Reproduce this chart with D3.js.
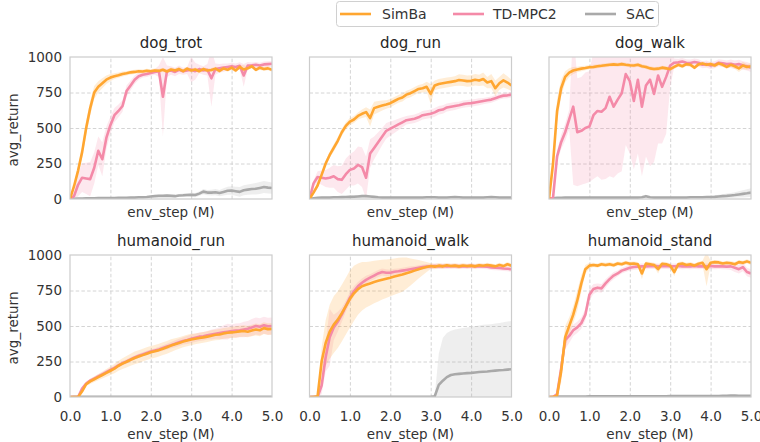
<!DOCTYPE html>
<html>
<head>
<meta charset="utf-8">
<script src="https://cdn.jsdelivr.net/npm/d3@7/dist/d3.min.js"></script>
<style>
  html, body { margin: 0; padding: 0; background: #fff; }
  svg { display: block; font-family: "DejaVu Sans", sans-serif; }
</style>
</head>
<body>
<svg id="chart" width="760" height="442"></svg>
<script>
// ---------------- DATA ----------------
const steps = [0.0,0.1,0.2,0.3,0.4,0.5,0.6,0.7,0.8,0.9,1.0,1.1,1.2,1.3,1.4,1.5,1.6,1.7,1.8,1.9,2.0,2.1,2.2,2.3,2.4,2.5,2.6,2.7,2.8,2.9,3.0,3.1,3.2,3.3,3.4,3.5,3.6,3.7,3.8,3.9,4.0,4.1,4.2,4.3,4.4,4.5,4.6,4.7,4.8,4.9,5.0];
const seriesNames = ["SimBa", "TD-MPC2", "SAC"];
const taskNames = ["dog_trot", "dog_run", "dog_walk", "humanoid_run", "humanoid_walk", "humanoid_stand"];
const xTicks = [0, 1, 2, 3, 4, 5];
const yTicks = [0, 250, 500, 750, 1000];

// dog_trot
const dogTrotSimba   = [0,90,200,330,500,640,750,790,815,840,855,865,872,880,885,892,895,900,898,903,900,905,902,910,898,912,905,915,900,918,905,912,900,915,905,908,918,902,920,910,925,905,930,912,920,935,910,925,915,920,910];
const dogTrotSimbaSd = [0,20,30,40,50,50,45,40,35,30,25,20,18,18,15,15,15,14,14,14,14,14,14,14,14,14,14,14,14,14,14,14,14,14,14,14,14,14,14,14,14,14,14,30,14,14,14,14,14,14,14];
const dogTrotTd      = [0,20,100,150,145,140,220,340,280,430,520,590,620,655,760,800,840,865,875,880,888,895,900,720,900,905,895,910,900,905,912,900,915,905,910,850,915,920,925,930,935,930,938,870,940,942,945,940,948,950,952];
const dogTrotTdSd    = [0,30,80,100,110,120,110,100,120,80,60,50,45,40,40,35,30,25,20,20,20,20,40,280,40,30,30,30,25,25,90,60,30,30,40,200,40,30,30,25,25,25,25,80,25,20,20,20,20,20,20];
const dogTrotSac     = [0,2,3,4,5,5,5,6,6,6,7,7,8,8,8,10,10,12,12,14,18,20,22,22,24,22,20,25,26,28,30,28,38,52,45,45,48,42,50,58,60,55,50,62,66,70,72,78,84,80,77];
const dogTrotSacSd   = [0,2,3,3,3,3,3,3,3,3,3,4,4,4,4,5,5,5,6,6,7,7,8,8,9,10,10,10,12,12,14,15,15,18,18,20,22,22,25,28,30,32,34,35,36,38,40,42,42,42,40];

// dog_run
const dogRunSimba    = [0,45,95,170,250,310,360,410,470,515,545,560,585,600,612,570,640,650,658,665,675,690,705,715,735,745,760,775,780,790,740,800,810,815,820,825,830,838,835,830,832,840,835,845,820,830,780,815,835,820,800];
const dogRunSimbaSd  = [0,10,15,18,20,22,25,25,25,25,25,25,25,30,35,60,45,40,35,30,30,28,28,28,28,28,28,28,30,35,70,35,35,35,35,35,35,40,40,40,40,40,40,45,40,50,55,45,50,45,40];
const dogRunTd       = [0,110,155,150,145,150,160,140,135,175,205,215,240,225,150,320,360,400,440,480,495,510,525,540,555,560,565,575,590,595,600,610,625,630,645,650,655,660,668,672,675,680,685,690,695,700,710,720,728,730,735];
const dogRunTdSd     = [0,20,40,50,60,70,80,90,100,110,110,120,130,140,150,100,80,70,60,55,50,45,40,35,30,30,30,30,30,30,30,30,30,30,28,28,28,25,25,25,25,25,25,22,22,22,22,20,20,20,20];
const dogRunSac      = [0,5,8,10,10,10,12,12,13,14,15,16,18,20,20,18,15,12,10,10,10,10,10,10,10,10,10,10,10,12,12,12,10,10,10,12,14,12,10,10,10,10,10,10,12,14,12,10,10,10,10];
const dogRunSacSd    = [0,3,4,5,5,5,6,6,7,8,9,10,10,10,10,8,7,6,5,5,5,5,5,5,5,5,5,5,5,5,5,5,5,5,5,5,5,5,5,5,5,5,5,5,5,5,5,5,5,5,5];

// dog_walk
const dogWalkSimba   = [0,250,620,780,860,890,905,912,918,922,928,930,935,938,942,945,948,945,950,945,942,940,945,935,930,920,915,918,925,920,915,930,945,935,950,945,925,948,955,945,950,940,955,945,930,945,935,920,940,930,935];
const dogWalkSimbaSd = [0,60,80,60,40,30,25,20,18,16,15,15,14,14,14,14,14,14,14,14,14,14,14,14,14,14,14,14,14,14,14,14,14,14,14,14,14,14,14,14,14,14,14,14,14,14,20,25,25,20,20];
const dogWalkTd      = [0,10,300,400,470,560,650,470,480,500,510,590,620,615,640,720,650,700,745,880,830,690,840,650,800,840,740,870,790,860,940,960,962,968,960,958,965,960,945,950,940,945,960,955,950,952,945,950,940,935,925];
const dogWalkTdSd    = [0,10,40,50,60,70,550,380,380,390,390,450,460,480,500,560,500,520,550,500,510,480,520,490,500,610,480,480,400,400,150,30,25,25,25,25,25,25,25,25,25,25,25,25,25,30,30,30,30,30,30];
const dogWalkSac     = [0,5,8,8,10,10,10,10,10,10,10,10,10,10,10,10,10,10,10,10,10,10,10,12,20,12,10,10,10,10,10,10,10,10,10,12,12,12,12,14,14,15,18,20,22,25,28,32,36,40,45];
const dogWalkSacSd   = [0,3,3,3,3,3,3,3,3,3,3,3,3,3,3,3,3,3,3,3,3,3,3,3,5,3,3,3,3,3,3,3,3,3,3,4,5,6,7,8,9,10,12,14,16,18,20,22,25,28,30];

// humanoid_run
const humRunSimba    = [0,0,0,40,90,110,125,140,155,170,185,200,220,235,248,262,275,285,295,305,315,322,330,340,350,362,372,380,390,398,405,410,415,420,425,432,438,440,448,452,455,458,462,465,460,468,475,470,485,478,480];
const humRunSimbaSd  = [0,0,0,10,15,18,20,22,25,28,30,32,35,38,40,42,45,45,45,45,45,45,45,45,45,45,42,40,40,40,40,38,38,38,38,38,38,38,38,38,40,40,40,40,40,40,42,42,42,42,42];
const humRunTd       = [0,0,0,60,95,115,130,145,160,175,190,205,222,238,250,265,278,290,300,310,320,328,335,345,355,365,375,385,395,402,410,418,425,428,435,440,445,450,455,460,465,468,470,475,480,490,500,495,505,498,500];
const humRunTdSd     = [0,0,0,10,12,14,15,15,15,15,15,15,15,15,15,15,15,15,15,15,15,15,18,20,20,22,25,25,25,28,30,30,30,30,30,35,35,40,50,55,45,50,50,55,55,60,60,60,60,60,60];
const humRunSac      = [0,1,1,2,2,2,2,2,2,2,2,2,2,2,2,2,2,2,2,2,2,2,2,2,2,2,2,2,2,2,2,2,2,2,2,2,2,2,2,2,2,2,2,2,2,2,2,2,2,2,2];
const humRunSacSd    = [0,1,1,1,1,1,1,1,1,1,1,1,1,1,1,1,1,1,1,1,1,1,1,1,1,1,1,1,1,1,1,1,1,1,1,1,1,1,1,1,1,1,1,1,1,1,1,1,1,1,1];

// humanoid_walk
const humWalkSimba   = [0,0,5,250,380,460,510,545,590,640,690,730,760,780,790,800,810,818,826,833,840,848,855,862,872,880,890,900,908,915,922,918,925,920,928,922,925,920,926,922,925,920,928,924,930,925,920,930,922,935,925];
const humWalkSimbaSd = [0,0,10,100,160,190,200,200,200,200,200,195,180,170,160,155,150,145,140,135,131,128,125,120,110,95,80,65,50,35,20,18,18,16,16,16,16,16,16,15,15,15,15,15,15,15,15,15,15,15,15];
const humWalkTd      = [0,0,0,80,280,420,490,530,580,640,700,745,780,805,825,840,855,870,880,875,875,882,885,890,895,900,905,910,915,918,920,922,920,922,920,921,922,920,921,920,922,920,921,920,918,912,910,908,905,903,900];
const humWalkTdSd    = [0,0,0,60,100,200,90,70,50,40,40,35,30,30,28,25,25,25,25,25,22,22,20,20,20,20,18,18,18,18,18,18,18,18,18,18,18,18,18,18,18,18,18,18,18,18,18,18,18,18,18];
const humWalkSac     = [0,2,2,2,2,2,2,2,2,2,2,2,2,2,2,2,2,2,2,2,2,2,2,2,2,2,2,2,2,2,2,5,85,115,140,155,160,163,166,168,170,173,176,178,180,183,186,188,190,193,195];
const humWalkSacSd   = [0,1,1,1,1,1,1,1,1,1,1,1,1,1,1,1,1,1,1,1,1,1,1,1,1,1,1,1,1,1,1,5,220,300,310,312,315,318,320,322,324,326,328,330,330,330,332,334,336,338,340];

// humanoid_stand
const humStandSimba  = [0,0,10,180,420,500,580,680,800,900,925,930,925,935,930,935,928,940,935,945,938,940,935,870,940,935,930,900,938,935,925,880,935,940,930,935,925,938,945,900,945,950,948,940,945,942,935,950,945,955,945];
const humStandSimbaSd= [0,0,10,80,80,60,60,70,60,30,20,15,15,15,15,15,15,15,15,15,15,15,15,40,15,15,15,30,15,15,15,30,15,15,15,15,15,15,15,120,15,15,15,15,15,15,15,15,15,15,15];
const humStandTd     = [0,0,20,200,400,430,470,490,520,580,720,760,770,765,800,830,855,870,890,900,910,915,918,920,920,921,922,920,921,922,920,921,922,920,921,920,922,920,921,920,922,920,921,920,918,920,910,900,915,880,870];
const humStandTdSd   = [0,0,10,60,60,50,40,40,40,40,40,35,30,30,30,25,25,20,20,20,20,20,20,20,20,20,20,20,20,20,20,20,20,20,20,20,20,20,20,20,20,20,20,20,20,25,30,30,30,30,30];
const humStandSac    = [0,2,3,3,4,4,4,4,4,4,5,5,5,5,5,5,5,5,5,5,5,5,5,5,5,5,5,5,5,5,6,6,6,6,6,6,6,6,6,7,7,7,7,8,8,10,10,9,8,8,8];
const humStandSacSd  = [0,2,2,2,2,2,2,2,2,2,2,2,2,2,2,2,2,2,2,2,2,2,2,2,2,2,2,2,2,2,3,3,3,3,3,3,3,3,3,3,3,3,3,3,3,4,4,4,4,4,4];

// ---------------- BUILD ----------------
const panelData = [
  [[dogTrotSimba, dogTrotSimbaSd], [dogTrotTd, dogTrotTdSd], [dogTrotSac, dogTrotSacSd]],
  [[dogRunSimba, dogRunSimbaSd], [dogRunTd, dogRunTdSd], [dogRunSac, dogRunSacSd]],
  [[dogWalkSimba, dogWalkSimbaSd], [dogWalkTd, dogWalkTdSd], [dogWalkSac, dogWalkSacSd]],
  [[humRunSimba, humRunSimbaSd], [humRunTd, humRunTdSd], [humRunSac, humRunSacSd]],
  [[humWalkSimba, humWalkSimbaSd], [humWalkTd, humWalkTdSd], [humWalkSac, humWalkSacSd]],
  [[humStandSimba, humStandSimbaSd], [humStandTd, humStandTdSd], [humStandSac, humStandSacSd]]
];

const colors = { "SimBa": "#ffa630", "TD-MPC2": "#f48aa8", "SAC": "#a9a9a9" };
const textColor = "#333333";
const spineColor = "#cccccc";
const gridColor = "#cfcfcf";

const svg = d3.select("#chart");
const colLeft = [70, 309.5, 549];
const rowTop = [57, 255];
const pw = 202, ph = 142;

const x = d3.scaleLinear().domain([0, 5]).range([0, pw]);
const y = d3.scaleLinear().domain([0, 1000]).range([ph, 0]);

const defs = svg.append("defs");
defs.append("clipPath").attr("id", "plotclip")
  .append("rect").attr("x", 0).attr("y", 0).attr("width", pw).attr("height", ph);

taskNames.forEach((task, i) => {
  const col = i % 3, row = Math.floor(i / 3);
  const g = svg.append("g").attr("transform", `translate(${colLeft[col]},${rowTop[row]})`);

  // grid
  const gridX = g.append("g").attr("transform", `translate(0,${ph})`)
    .call(d3.axisBottom(x).tickValues([1, 2, 3, 4]).tickSize(-ph).tickFormat(""));
  const gridY = g.append("g")
    .call(d3.axisLeft(y).tickValues([250, 500, 750]).tickSize(-pw).tickFormat(""));
  [gridX, gridY].forEach(gg => {
    gg.select(".domain").remove();
    gg.selectAll("line").attr("stroke", gridColor).attr("stroke-width", 0.9).attr("stroke-dasharray", "3.5,2.2");
  });

  // series (SAC first, SimBa on top)
  const plot = g.append("g").attr("clip-path", "url(#plotclip)");
  [2, 1, 0].forEach(si => {
    const [mean, sd] = panelData[i][si];
    const pts = steps.map((s, k) => ({ s, m: mean[k], d: sd[k] }));
    const col = colors[seriesNames[si]];
    plot.append("path").datum(pts)
      .attr("d", d3.area().x(p => x(p.s)).y0(p => y(p.m - p.d)).y1(p => y(p.m + p.d)))
      .attr("fill", col).attr("fill-opacity", 0.2).attr("stroke", "none");
  });
  [2, 1, 0].forEach(si => {
    const [mean] = panelData[i][si];
    const pts = steps.map((s, k) => ({ s, m: mean[k] }));
    plot.append("path").datum(pts)
      .attr("d", d3.line().x(p => x(p.s)).y(p => y(p.m)))
      .attr("fill", "none").attr("stroke", colors[seriesNames[si]])
      .attr("stroke-width", 2.6).attr("stroke-linejoin", "round");
  });

  // spines
  g.append("rect").attr("x", 0).attr("y", 0).attr("width", pw).attr("height", ph)
    .attr("fill", "none").attr("stroke", spineColor).attr("stroke-width", 1.2);

  // y axis ticks labels
  if (col === 0) {
    const ya = g.append("g").call(d3.axisLeft(y).tickValues(yTicks).tickSize(0).tickPadding(8).tickFormat(d3.format("d")));
    ya.select(".domain").remove();
    ya.selectAll("text").attr("fill", textColor).style("font-size", "13.5px").style("font-family", "DejaVu Sans");
    svg.append("text")
      .attr("transform", `translate(18,${rowTop[row] + ph / 2 + 2}) rotate(-90)`)
      .attr("text-anchor", "middle").attr("fill", textColor)
      .style("font-size", "13.5px").text("avg_return");
  }
  // x axis tick labels (bottom row)
  if (row === 1) {
    const xa = g.append("g").attr("transform", `translate(0,${ph})`)
      .call(d3.axisBottom(x).tickValues(xTicks).tickSize(0).tickPadding(14).tickFormat(d3.format(".1f")));
    xa.select(".domain").remove();
    xa.selectAll("text").attr("fill", textColor).style("font-size", "13.5px").style("font-family", "DejaVu Sans");
  }
  // x label
  g.append("text").attr("x", pw / 2).attr("y", row === 0 ? ph + 18 : ph + 41.5)
    .attr("text-anchor", "middle").attr("fill", textColor)
    .style("font-size", "13.5px").text("env_step (M)");
  // title
  g.append("text").attr("x", pw / 2).attr("y", -9)
    .attr("text-anchor", "middle").attr("fill", "#262626")
    .style("font-size", "15px").text(task);
});

// legend
const leg = svg.append("g");
leg.append("rect").attr("x", 336.5).attr("y", 1.5).attr("width", 322).attr("height", 25).attr("rx", 3)
  .attr("fill", "#fff").attr("stroke", "#d0d0d0").attr("stroke-width", 1);
const legItems = [
  { name: "SimBa", x0: 340, tx: 382 },
  { name: "TD-MPC2", x0: 453, tx: 493 },
  { name: "SAC", x0: 585, tx: 626 }
];
legItems.forEach(it => {
  leg.append("line").attr("x1", it.x0).attr("x2", it.x0 + 31).attr("y1", 14).attr("y2", 14)
    .attr("stroke", colors[it.name]).attr("stroke-width", 2.6);
  leg.append("text").attr("x", it.tx).attr("y", 19).attr("fill", textColor)
    .style("font-size", "14px").text(it.name);
});
</script>
</body>
</html>
